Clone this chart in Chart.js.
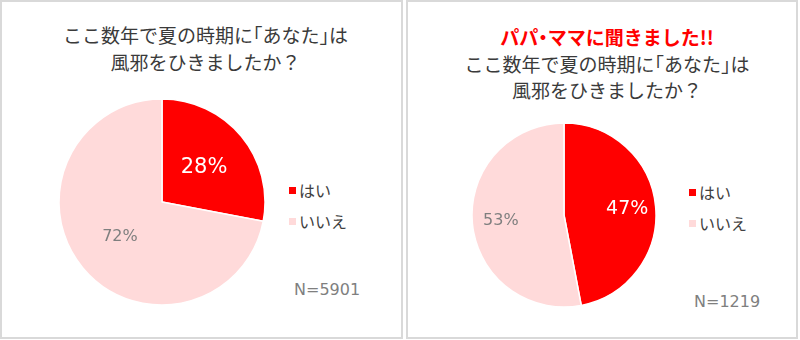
<!DOCTYPE html>
<html>
<head>
<meta charset="utf-8">
<script src="https://cdn.jsdelivr.net/npm/chart.js@4"></script>
<style>
  body { margin: 0; width: 800px; height: 340px; background: #fff; position: relative; overflow: hidden;
         font-family: "Noto Sans CJK JP", "Noto Sans", sans-serif; }
  .panel { position: absolute; top: 0; height: 335px; border: 2px solid #d9d9d9; background: #fff; }
  .title { position: absolute; left: 0; right: 0; text-align: center; font-size: 19px; line-height: 26.5px; color: #3a3a3a; }
  .title .red { color: #ff0000; font-weight: bold; }
  .title .br { font-feature-settings: "halt"; }
  .pie { position: absolute; }
  .legend { position: absolute; font-size: 16px; color: #404040; }
  .legend div { position: relative; height: 31px; line-height: 31px; padding-left: 10px; }
  .legend span { position: absolute; left: 0; top: 12px; width: 7px; height: 7px; }
  .n { position: absolute; font-size: 16px; color: #7f7f7f; font-family: "DejaVu Sans", sans-serif; }
</style>
</head>
<body>
<div class="panel" style="left:0; width:399px;">
  <div class="title" style="top:20px; left:8px;">ここ数年で夏の時期に<span class="br">「</span>あなた<span class="br">」</span>は<br>風邪をひきましたか？</div>
  <div class="legend" id="legend1" style="left:287px; top:173px;"></div>
  <div class="n" style="left:292px; top:278px;">N=5901</div>
</div>
<div class="panel" style="left:406px; width:388px;">
  <div class="title" style="top:22px; left:10px;"><span class="red">パパ<span class="br">・</span>ママに聞きました!!</span><br>ここ数年で夏の時期に<span class="br">「</span>あなた<span class="br">」</span>は<br>風邪をひきましたか？</div>
  <div class="legend" id="legend2" style="left:281px; top:175px;"></div>
  <div class="n" style="left:286px; top:290px;">N=1219</div>
</div>
<canvas id="pie1" class="pie" style="left:56px; top:96px;" width="212" height="212"></canvas>
<canvas id="pie2" class="pie" style="left:469px; top:120px;" width="190" height="190"></canvas>

<script>
const answers = ['はい', 'いいえ'];
const allValues = [28, 72];
const parentValues = [47, 53];
const sliceColors = ['#ff0000', '#ffdada'];

// percentage text inside each slice
const sliceLabels = {
  id: 'sliceLabels',
  afterDatasetsDraw(chart, args, opts) {
    const ctx = chart.ctx;
    const arcs = chart.getDatasetMeta(0).data;
    const values = chart.data.datasets[0].data;
    arcs.forEach((arc, i) => {
      const mid = (arc.startAngle + arc.endAngle) / 2;
      const r = arc.outerRadius * opts.dist;
      const x = arc.x + Math.cos(mid) * r;
      const y = arc.y + Math.sin(mid) * r;
      ctx.save();
      ctx.fillStyle = opts.colors[i];
      ctx.font = opts.fonts[i];
      ctx.textAlign = 'center';
      ctx.textBaseline = 'middle';
      ctx.fillText(values[i] + '%', x, y);
      ctx.restore();
    });
  }
};

const makePie = (id, values, radius, dist, fonts) => new Chart(document.getElementById(id), {
  type: 'pie',
  data: {
    labels: answers,
    datasets: [{
      data: values,
      backgroundColor: sliceColors,
      borderColor: '#ffffff',
      borderWidth: 1.5,
      radius: radius
    }]
  },
  options: {
    responsive: false,
    animation: false,
    events: [],
    plugins: {
      legend: { display: false },
      tooltip: { enabled: false },
      sliceLabels: {
        dist: dist,
        colors: ['#ffffff', '#7f7f7f'],
        fonts: fonts
      }
    }
  },
  plugins: [sliceLabels]
});

const makeLegend = (id) => {
  const box = document.getElementById(id);
  answers.forEach((a, i) => {
    const row = document.createElement('div');
    row.innerHTML = `<span style="background:${sliceColors[i]}"></span>${a}`;
    box.appendChild(row);
  });
};

makePie('pie1', allValues, 103, 0.53, ['21px "DejaVu Sans", sans-serif', '16px "DejaVu Sans", sans-serif']);
makePie('pie2', parentValues, 92, 0.69, ['19px "DejaVu Sans", sans-serif', '16px "DejaVu Sans", sans-serif']);
makeLegend('legend1');
makeLegend('legend2');
</script>
</body>
</html>
